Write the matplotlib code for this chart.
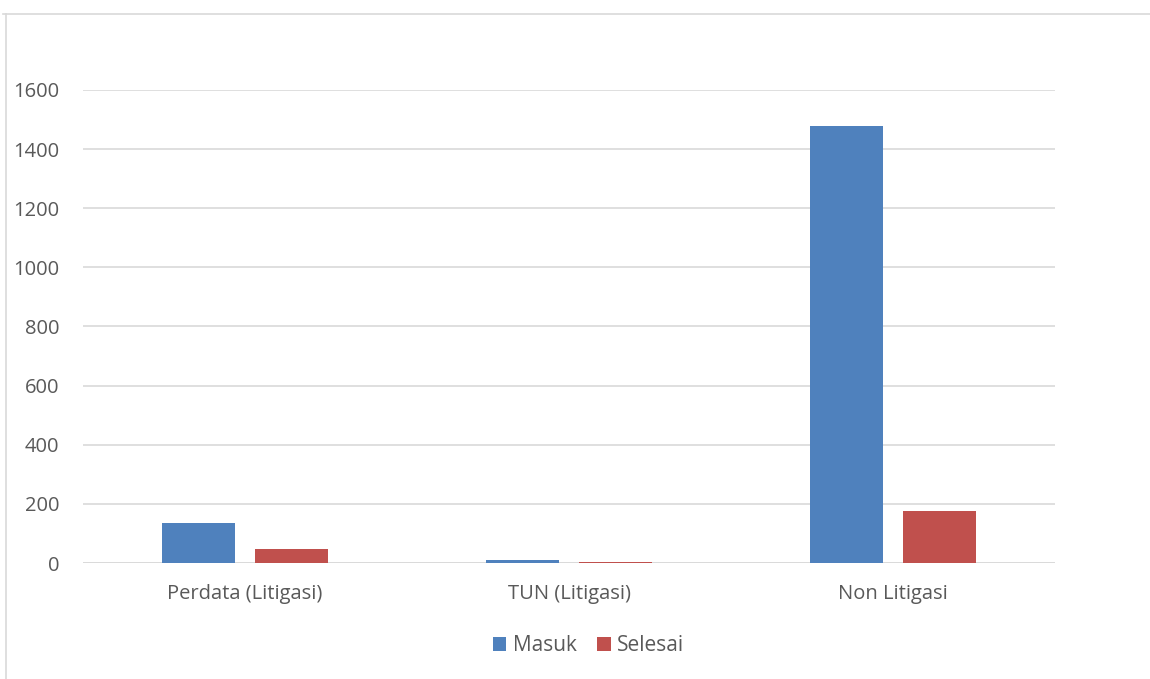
import numpy as np
import matplotlib.pyplot as plt
from matplotlib.lines import Line2D

# Data
categories = ["Perdata (Litigasi)", "TUN (Litigasi)", "Non Litigasi"]
masuk = [136, 9, 1479]
selesai = [47, 4, 175]
y_ticks = [0, 200, 400, 600, 800, 1000, 1200, 1400, 1600]

plt.rcParams['font.family'] = ['Open Sans', 'DejaVu Sans']

fig = plt.figure(figsize=(11.5, 6.79), dpi=100)
ax = fig.add_axes([0.0722, 0.1708, 0.8452, 0.6967])

x = np.arange(len(categories))
w = 0.225
ax.bar(x - 0.143, masuk, w, color="#4F81BD", label="Masuk", zorder=3)
ax.bar(x + 0.143, selesai, w, color="#C0504D", label="Selesai", zorder=3)

ax.set_xlim(-0.5, 2.5)
ax.set_ylim(0, 1600)
ax.set_yticks(y_ticks)
ax.set_xticks(x)
ax.set_xticklabels(categories)
ax.grid(axis="y", color="#D9D9D9", linewidth=1.2, zorder=0)
ax.tick_params(length=0, labelsize=14.5, colors="#595959")
ax.tick_params(axis="y", pad=17)
ax.tick_params(axis="x", pad=15)
for s in ax.spines.values():
    s.set_visible(False)
ax.axhline(0, color="#D9D9D9", linewidth=1.2, zorder=2)

ax.legend(loc="center", bbox_to_anchor=(0.52, -0.175), ncol=2, frameon=False,
          fontsize=15, handlelength=0.65, handleheight=0.65, handletextpad=0.3,
          columnspacing=1.0, labelcolor="#595959")

# chart frame (top and left edges)
fig.add_artist(Line2D([0.003, 1.0], [1 - 14 / 679, 1 - 14 / 679], color="#D9D9D9", linewidth=1.2))
fig.add_artist(Line2D([0.005, 0.005], [0.0, 1 - 14 / 679], color="#D9D9D9", linewidth=1.2))

fig.savefig("out.png", dpi=100)
